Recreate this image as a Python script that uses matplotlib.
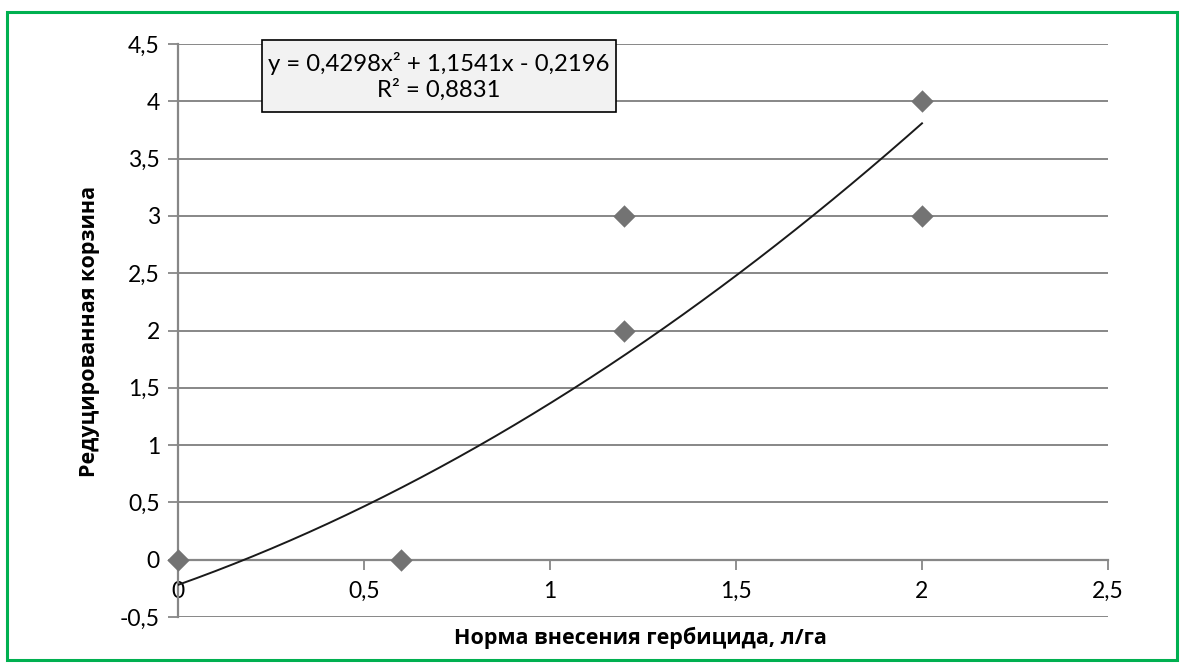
import numpy as np
import matplotlib
matplotlib.use("Agg")
import matplotlib.pyplot as plt
from matplotlib.patches import Rectangle

plt.rcParams['font.family'] = ['Lato', 'DejaVu Sans']

# data points
x_vals = [0, 0.6, 1.2, 1.2, 2, 2]
y_vals = [0, 0, 3, 2, 4, 3]

# polynomial trendline coefficients (a, b, c) as shown in the chart
trend_coef = [0.4298, 1.1541, -0.2196]
trend_text = "y = 0,4298x² + 1,1541x - 0,2196\nR² = 0,8831"

x_ticks = [0, 0.5, 1, 1.5, 2, 2.5]
x_labels = ["0", "0,5", "1", "1,5", "2", "2,5"]
y_ticks = [-0.5, 0, 0.5, 1, 1.5, 2, 2.5, 3, 3.5, 4, 4.5]
y_labels = ["-0,5", "0", "0,5", "1", "1,5", "2", "2,5", "3", "3,5", "4", "4,5"]

GRID = "#878787"
MARK = "#737373"
FS = 16.5
W, H = 1184, 667

fig = plt.figure(figsize=(W / 100, H / 100), dpi=100, facecolor="white")
fig.patches.append(Rectangle((7 / W, 7 / H), 1170 / W, 648 / H,
                             transform=fig.transFigure, fill=False,
                             edgecolor="#00B050", linewidth=2.2))

ax = fig.add_axes([178 / W, 1 - 617 / H, 930 / W, 573 / H])
ax.set_xlim(0, 2.5)
ax.set_ylim(-0.5, 4.5)

for yv in y_ticks:
    if yv != 0:
        ax.axhline(yv, color=GRID, lw=1.4, zorder=1)

for s in ["top", "right"]:
    ax.spines[s].set_visible(False)
ax.spines["left"].set_color(GRID)
ax.spines["left"].set_linewidth(1.6)
ax.spines["bottom"].set_position(("data", 0))
ax.spines["bottom"].set_color(GRID)
ax.spines["bottom"].set_linewidth(1.6)

ax.set_xticks(x_ticks)
ax.set_xticklabels(x_labels)
ax.set_yticks(y_ticks)
ax.set_yticklabels(y_labels)
ax.tick_params(axis="x", direction="out", length=7, width=1.3, color=GRID,
               labelsize=FS, pad=8)
ax.tick_params(axis="y", direction="out", length=7, width=1.3, color=GRID,
               labelsize=FS, pad=6)

xs = np.linspace(0, 2, 200)
ys = np.polyval(trend_coef, xs)
ax.plot(xs, ys, color="#1a1a1a", lw=1.4, zorder=3)

ax.scatter(x_vals, y_vals, marker="D", s=130, color=MARK, zorder=4,
           clip_on=False, linewidths=0)

# trendline equation box
fig.patches.append(Rectangle((262 / W, 1 - 112 / H), 354 / W, 72 / H,
                             transform=fig.transFigure, facecolor="#F2F2F2",
                             edgecolor="black", linewidth=1.2, zorder=5))
fig.text(439 / W, 1 - 76 / H, trend_text, ha="center", va="center",
         fontsize=17.2, linespacing=1.2, zorder=6)

fig.text(640 / W, 1 - 638 / H, "Норма внесения гербицида, л/га",
         ha="center", va="center", fontsize=15.5, fontweight="bold",
         family=["Open Sans", "DejaVu Sans"])
fig.text(90 / W, 1 - 331 / H, "Редуцированная корзина", rotation=90,
         ha="center", va="center", fontsize=15.5, fontweight="bold",
         family=["Open Sans", "DejaVu Sans"])

fig.savefig("out.png", dpi=100, facecolor="white")
